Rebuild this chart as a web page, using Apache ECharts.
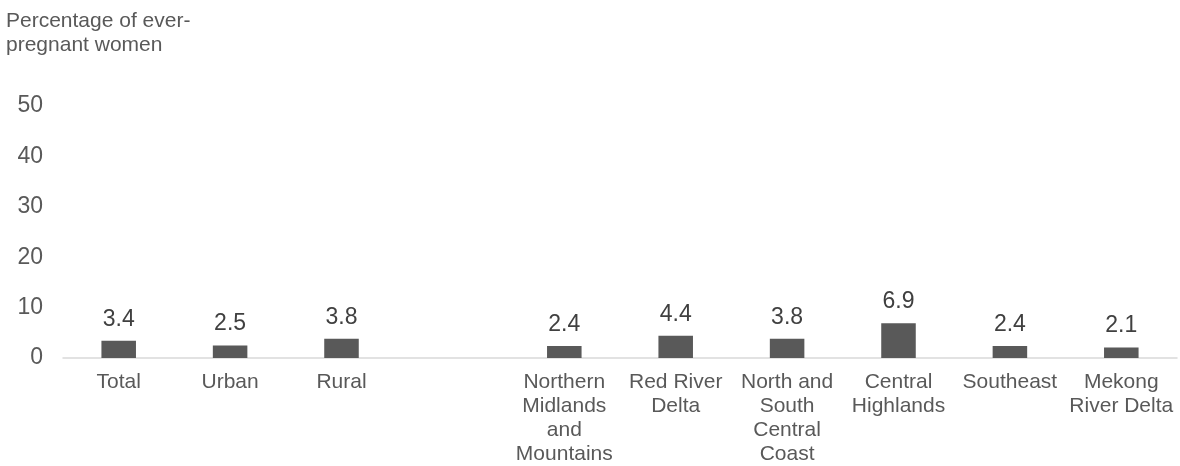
<!DOCTYPE html>
<html>
<head>
<meta charset="utf-8">
<script src="https://cdn.jsdelivr.net/npm/echarts@6/dist/echarts.min.js"></script>
<style>
  html, body { margin: 0; padding: 0; background: #ffffff; }
  #chart { width: 1180px; height: 466px; }
</style>
</head>
<body>
<div id="chart"></div>
<script>
// Categories: national total, residence, then the six regions (one empty slot as a spacer)
const categories = [
  'Total', 'Urban', 'Rural', '',
  'Northern\nMidlands\nand\nMountains', 'Red River\nDelta',
  'North and\nSouth\nCentral\nCoast', 'Central\nHighlands',
  'Southeast', 'Mekong\nRiver Delta'
];
const values = [3.4, 2.5, 3.8, null, 2.4, 4.4, 3.8, 6.9, 2.4, 2.1];
const yTicks = [0, 10, 20, 30, 40, 50];
const axisTitle = 'Percentage of ever-\npregnant women';

const FONT = '"Liberation Sans", Arial, sans-serif';
const chart = echarts.init(document.getElementById('chart'), null, { renderer: 'canvas' });

chart.setOption({
  animation: false,
  backgroundColor: '#ffffff',
  title: {
    text: axisTitle,
    left: 6,
    top: 9,
    padding: 0,
    textStyle: {
      fontFamily: FONT,
      fontSize: 21,
      fontWeight: 'normal',
      color: '#595959',
      lineHeight: 24
    }
  },
  grid: { left: 63, right: 3, top: 106, bottom: 106, containLabel: false },
  xAxis: {
    type: 'category',
    data: categories,
    axisLine: { show: true, lineStyle: { color: '#d9d9d9', width: 1.5 } },
    axisTick: { show: false },
    axisLabel: {
      interval: 0,
      margin: 12,
      fontFamily: FONT,
      fontSize: 21,
      lineHeight: 24,
      color: '#595959',
      align: 'center'
    }
  },
  yAxis: {
    type: 'value',
    min: yTicks[0],
    max: yTicks[yTicks.length - 1],
    interval: yTicks[1] - yTicks[0],
    axisLine: { show: false },
    axisTick: { show: false },
    splitLine: { show: false },
    axisLabel: {
      margin: 20,
      fontFamily: FONT,
      fontSize: 23,
      color: '#595959'
    }
  },
  series: [{
    type: 'bar',
    data: values,
    barWidth: '31%',
    itemStyle: { color: '#595959' },
    label: {
      show: true,
      position: 'top',
      distance: 10,
      fontFamily: FONT,
      fontSize: 23,
      color: '#404040',
      formatter: p => p.value.toFixed(1)
    }
  }]
});
</script>
</body>
</html>
